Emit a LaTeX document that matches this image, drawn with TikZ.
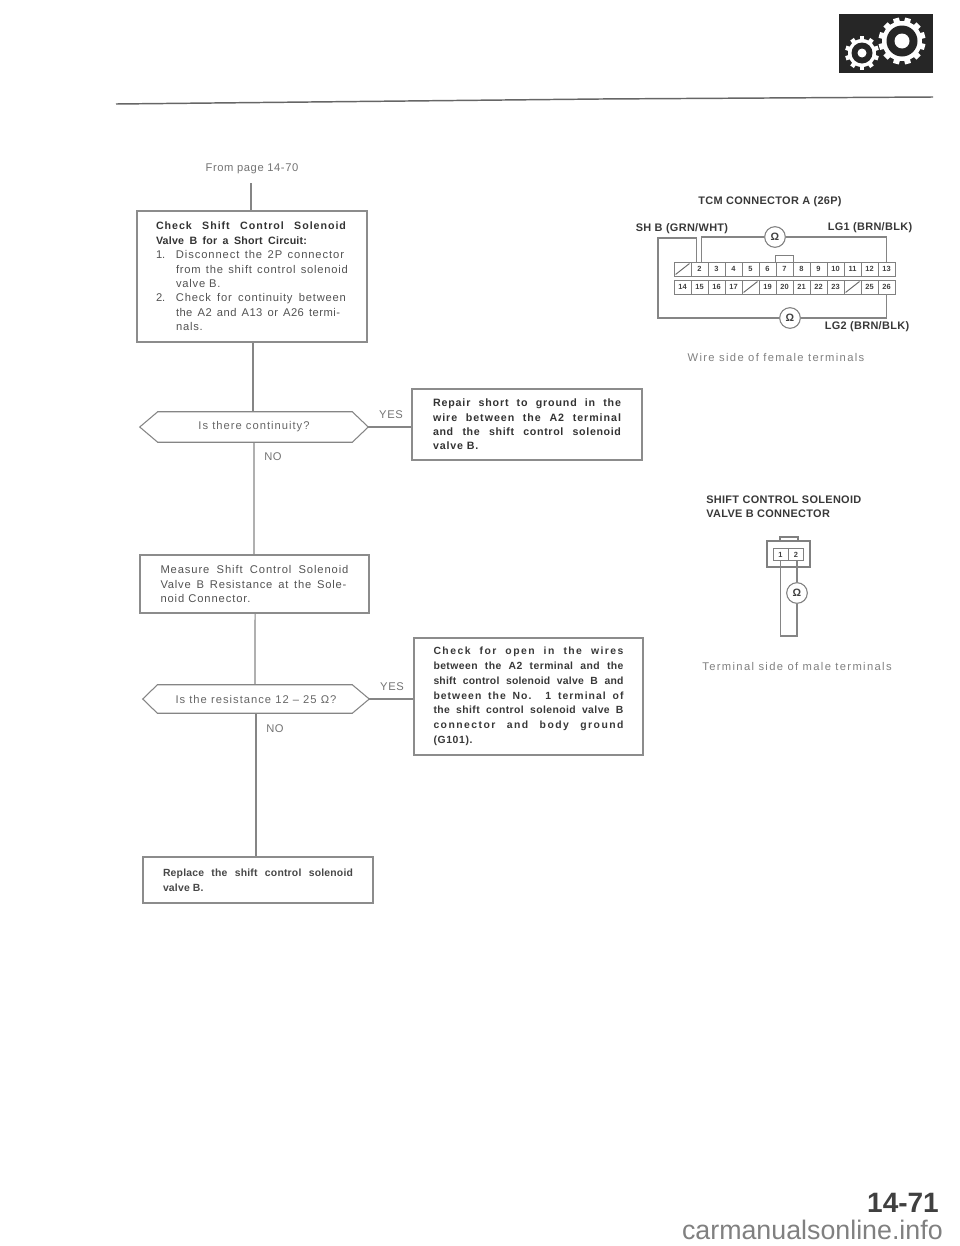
\documentclass[tikz,border=0pt]{standalone}
\usepackage{fontspec}
\setmainfont{Liberation Sans}
\newlength{\pxlen}
\newcommand{\jl}[3][0]{\setlength{\pxlen}{#2pt}\setlength{\pxlen}{0.75\pxlen}\makebox[\pxlen][s]{\addfontfeature{LetterSpace=#1}#3}}
\newcommand{\numl}[2]{\setlength{\pxlen}{20pt}\setlength{\pxlen}{0.75\pxlen}\makebox[\pxlen][l]{#1}#2}
\newcommand{\bl}[1]{{\bfseries\fontsize{8}{10.8}\selectfont\color{black!80}#1}}
\tikzset{
  x=0.75pt,y=-0.75pt,
  hexline/.style={draw=black!48,line width=0.8pt},
  conn/.style={draw=black!48,line width=0.8pt},
  framebox/.style={draw=black!45,line width=0.85pt,inner sep=0pt,align=left,text=black!68},
  plainbox/.style={framebox,font=\fontsize{8.4}{10.8}\selectfont},
  boldbox/.style={framebox,text=black!80,font=\bfseries\fontsize{8}{10.8}\selectfont},
  boldboxb/.style={framebox,text=black!78,font=\bfseries\fontsize{7.8}{11.1}\selectfont},
  hexlabel/.style={inner sep=0pt,text=black!60,font=\fontsize{8.4}{9}\selectfont\addfontfeature{LetterSpace=9}},
  lab/.style={inner sep=0pt,text=black!55,font=\fontsize{8.4}{10}\selectfont\addfontfeature{LetterSpace=5}},
  captext/.style={inner sep=0pt,text=black!78,font=\bfseries\fontsize{8.2}{10.5}\selectfont\addfontfeature{LetterSpace=3}},
  sidetext/.style={inner sep=0pt,text=black!50,font=\fontsize{8.4}{10}\selectfont\addfontfeature{LetterSpace=12}},
  pincell/.style={draw=black!50,line width=0.7pt,inner sep=0pt,minimum width=12.75pt,minimum height=10.5pt,text=black!75,font=\bfseries\fontsize{5.6}{6}\selectfont},
  meter/.style={circle,draw=black!50,line width=0.8pt,fill=white,inner sep=0pt,minimum size=15.5pt,text=black!75,font=\bfseries\fontsize{8}{9}\selectfont},
}
\begin{document}
\begin{tikzpicture}
\useasboundingbox (0,0) rectangle (960,1246);
% header rule
\coordinate (ruleL) at (116,104);
\coordinate (ruleM) at (600,99);
\coordinate (ruleR) at (933,97);
\draw[black!60,line width=1.1pt] (ruleL) -- (ruleM) -- (ruleR);
% gear icon
\fill[black!85] (839,14) rectangle (933,73);
\begin{scope}[shift={(902,41)}]
  \foreach \a in {0,30,...,330} {\fill[white,rotate=\a+15] (-3,-23.5) rectangle (3,-19);}
  \fill[white] (0,0) circle (20);
  \fill[black!85] (0,0) circle (15.5);
  \fill[white] (0,0) circle (7.5);
\end{scope}
\begin{scope}[shift={(862,53)}]
  \foreach \a in {0,36,...,324} {\fill[white,rotate=\a] (-2.2,-17) rectangle (2.2,-13);}
  \fill[white] (0,0) circle (14);
  \fill[black!85] (0,0) circle (10.5);
  \fill[white] (0,0) circle (4.5);
\end{scope}
% flowchart
\node[lab] (from) at (252,169) {From page 14-70};
\coordinate (fromEnd) at (251,183);
\node[plainbox,minimum width=172.5pt,minimum height=98.25pt] (b1) at (252,276.5) {%
  \bl{\jl[9]{190}{Check Shift Control Solenoid}}\\
  \bl{\jl[2]{151}{Valve B for a Short Circuit:}}\\
  \numl{1.}{\jl[8]{168}{Disconnect the 2P connector}}\\
  \numl{}{\jl[7]{172}{from the shift control solenoid}}\\
  \numl{}{\jl[7]{45}{valve B.\hfill}}\\
  \numl{2.}{\jl[7]{170}{Check for continuity between}}\\
  \numl{}{\jl[4]{164}{the A2 and A13 or A26 termi-}}\\
  \numl{}{\jl[7]{45}{nals.\hfill}}};
\node[hexlabel,minimum width=171pt,minimum height=22.5pt] (d1) at (254,427) {Is there continuity?};
\draw[hexline] (d1.west) -- ([xshift=13.5pt]d1.north west) -- ([xshift=-12pt]d1.north east) -- (d1.east) -- ([xshift=-12pt]d1.south east) -- ([xshift=13.5pt]d1.south west) -- cycle;
\node[boldbox,minimum width=172.5pt,minimum height=53.25pt] (b2) at (527,424.5) {%
  \jl[8]{188}{Repair short to ground in the}\\
  \jl[9]{188}{wire between the A2 terminal}\\
  \jl[6]{188}{and the shift control solenoid}\\
  \jl[8]{188}{valve B.\hfill}};
\node[plainbox,minimum width=171.75pt,minimum height=43.5pt] (b3) at (254.5,584) {%
  \jl[8]{188}{Measure Shift Control Solenoid}\\
  \jl[7]{186}{Valve B Resistance at the Sole-}\\
  \jl[8]{188}{noid Connector.\hfill}};
\node[hexlabel,minimum width=169.5pt,minimum height=21pt] (d2) at (256,699) {Is the resistance 12 – 25 Ω?};
\draw[hexline] (d2.west) -- ([xshift=11pt]d2.north west) -- ([xshift=-12.75pt]d2.north east) -- (d2.east) -- ([xshift=-12.75pt]d2.south east) -- ([xshift=11pt]d2.south west) -- cycle;
\node[boldboxb,minimum width=171.75pt,minimum height=87.75pt] (b4) at (528.5,696.5) {%
  \jl[14]{190}{Check for open in the wires}\\
  \jl[4]{190}{between the A2 terminal and the}\\
  \jl[2]{190}{shift control solenoid valve B and}\\
  \jl[10]{190}{between the No. 1 terminal of}\\
  \jl[4]{190}{the shift control solenoid valve B}\\
  \jl[14]{190}{connector and body ground}\\
  \jl[6]{190}{(G101).\hfill}};
\node[boldboxb,text=black!72,minimum width=172.5pt,minimum height=34.5pt] (b5) at (258,880) {%
  \jl[2]{190}{Replace the shift control solenoid}\\
  \jl[2]{190}{valve B.\hfill}};
\draw[conn] (fromEnd) -- (fromEnd |- b1.north);
\draw[conn] ([xshift=0.75pt]b1.south) -- ([xshift=-0.75pt]d1.north);
\draw[conn] (d1.south) -- ([xshift=-0.4pt]b3.north);
\draw[conn] ([xshift=0.4pt]b3.south) -- ([xshift=-0.75pt,yshift=0.4pt]d2.north);
\draw[conn] (d2.south) -- ([xshift=-1.5pt]b5.north);
\draw[conn] (d1.east) -- (b2.west |- d1.east);
\draw[conn] (d2.east) -- (b4.west |- d2.east);
\node[lab] (yes1) at (391,415) {YES};
\node[lab] (no1) at (273,457) {NO};
\node[lab] (yes2) at (392,687) {YES};
\node[lab] (no2) at (275,729) {NO};
% TCM connector
\node[captext] (tcmt) at (770,202) {TCM CONNECTOR A (26P)};
\node[captext] (shb) at (682,229) {SH B (GRN/WHT)};
\node[captext] (lg1) at (870,228) {LG1 (BRN/BLK)};
\node[captext] (lg2) at (867,327) {LG2 (BRN/BLK)};
\node[sidetext] (wire) at (776,357) {Wire side of female terminals};
\foreach \n/\t [count=\i from 0] in {1/,2/2,3/3,4/4,5/5,6/6,7/7,8/8,9/9,10/10,11/11,12/12,13/13}
  \node[pincell] (c\n) at ({682.5+17*\i},269) {\t};
\foreach \n/\t [count=\i from 0] in {14/14,15/15,16/16,17/17,18/,19/19,20/20,21/21,22/22,23/23,24/,25/25,26/26}
  \node[pincell] (c\n) at ({682.5+17*\i},287) {\t};
\foreach \n in {1,18,24} \draw[black!60,line width=0.7pt] ([shift={(1.5pt,1.5pt)}]c\n.south west) -- ([shift={(-1.5pt,-1.5pt)}]c\n.north east);
\draw[black!50,line width=0.7pt] (c7.north west) -- ++(0,-6) -| (c7.north east);
\node[meter] (m1) at (775,237) {Ω};
\node[meter] (m2) at (790,318) {Ω};
\coordinate (shbL) at (658,238);
\coordinate (shbB) at (658,318);
\draw[conn] ([xshift=-2.6pt]c2.north) -- ([xshift=-2.6pt]c2.north |- shbL) -- (shbL) -- (shbB) -- (m2);
\draw[conn] ([xshift=1.2pt]c2.north) -- ([xshift=1.2pt]c2.north |- m1) -- (m1);
\draw[conn] (m1) -- (c13.north |- m1) -- (c13.north);
\draw[conn] (m2) -- (c26.south |- m2) -- (c26.south);
% solenoid connector
\node[captext,align=left,anchor=north west] (sct) at (706,496) {SHIFT CONTROL SOLENOID\\VALVE B CONNECTOR};
\draw[black!50,line width=0.8pt] (767,541) rectangle (810,567);
\draw[black!50,line width=0.8pt] (780,541) -- (780,537) -- (798,537) -- (798,541);
\node[pincell,minimum width=11.25pt,minimum height=8.6pt] (s1) at (780.5,554.5) {1};
\node[pincell,minimum width=11.75pt,minimum height=8.6pt] (s2) at (796,554.5) {2};
\node[meter] (m3) at (797,593) {Ω};
\coordinate (solB) at (788,636);
\draw[conn] (s1.south) -- (s1.south |- solB) -- (m3 |- solB) -- (m3);
\draw[conn] (m3) -- (m3 |- s2.south);
\node[sidetext] (term) at (797,666) {Terminal side of male terminals};
% page number and site line
\node[inner sep=0pt,text=black!75,font=\bfseries\fontsize{21}{24}\selectfont] (page) at (903,1203) {14-71};
\node[inner sep=0pt,text=black!50,font=\fontsize{20.1}{22}\selectfont,anchor=east] (site) at (943,1230) {carmanualsonline.info};
\end{tikzpicture}
\end{document}
